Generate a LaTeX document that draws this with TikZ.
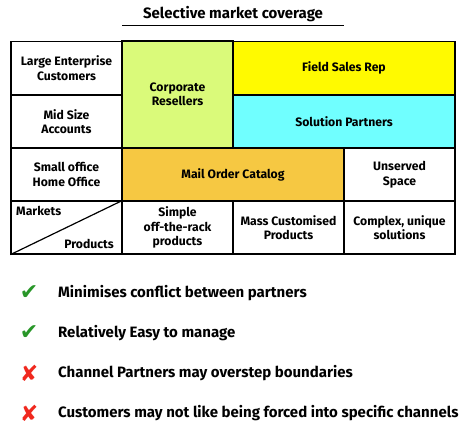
\documentclass[tikz,border=0pt]{standalone}
\usepackage{fontspec}
\setmainfont{Fira Sans}
\newfontfamily\symfont{DejaVu Sans}
\definecolor{limefill}{RGB}{218,250,122}
\definecolor{yellowfill}{RGB}{255,250,0}
\definecolor{cyanfill}{RGB}{112,255,255}
\definecolor{orangefill}{RGB}{246,200,66}
\definecolor{tickgreen}{RGB}{40,150,40}
\definecolor{crossred}{RGB}{240,40,30}
\tikzset{
  cell/.style={draw, line width=1.3pt, minimum width=111pt, minimum height=53pt,
    inner sep=0pt, align=center, font=\fontsize{12.2}{14.5}\bfseries\selectfont},
  wide/.style={cell, minimum width=222pt},
  item/.style={anchor=west, inner sep=0pt, font=\fontsize{15}{17}\bfseries\selectfont},
  mark sym/.style={inner sep=0pt, font=\symfont\fontsize{22}{22}\selectfont}
}
\begin{document}
\begin{tikzpicture}[x=1pt,y=-1pt]
	\useasboundingbox (0,0) rectangle (474,437);
	% title
	\node[font=\fontsize{15}{17}\bfseries\selectfont] (title) at (233,14) {Selective market coverage};
	\coordinate (ul) at (122,25.5);
	\coordinate (ur) at (344,25.5);
	\draw[line width=1.2pt] (ul) -- (ur);
	% markets column
	\node[cell] (large) at (66.5,68) {Large Enterprise\\Customers};
	\node[cell] (mid) at (66.5,121.5) {Mid Size\\Accounts};
	\node[cell] (small) at (66.5,174.5) {Small office\\Home Office};
	\node[cell] (corner) at (66.5,227.5) {};
	\draw[line width=1.2pt] (corner.south west) -- (corner.north east);
	\node[anchor=north west, inner sep=0pt, font=\fontsize{12.2}{14.5}\bfseries\selectfont] (markets) at (16,206) {Markets};
	\node[anchor=south east, inner sep=0pt, font=\fontsize{12.2}{14.5}\bfseries\selectfont] (products) at (114,249) {Products};
	% channels
	\node[cell, fill=limefill, minimum height=107pt] (corp) at (177.5,94.5) {Corporate\\Resellers};
	\node[wide, fill=yellowfill] (field) at (344,68) {Field Sales Rep};
	\node[wide, fill=cyanfill] (solution) at (344,121.5) {Solution Partners};
	\node[wide, fill=orangefill] (mail) at (233,174.5) {Mail Order Catalog};
	\node[cell] (unserved) at (399.5,174.5) {Unserved\\Space};
	% products row
	\node[cell] (simple) at (177.5,227.5) {Simple\\off-the-rack\\products};
	\node[cell] (mass) at (288.5,227.5) {Mass Customised\\Products};
	\node[cell] (complex) at (399.5,227.5) {Complex, unique\\solutions};
	% pros and cons
	\node[mark sym, text=tickgreen] (tick1) at (29,293) {✔};
	\node[item] (pro1) at (58,293) {Minimises conflict between partners};
	\node[mark sym, text=tickgreen] (tick2) at (29,333) {✔};
	\node[item] (pro2) at (58,333) {Relatively Easy to manage};
	\node[mark sym, text=crossred] (cross1) at (29,373) {✘};
	\node[item] (con1) at (58,373) {Channel Partners may overstep boundaries};
	\node[mark sym, text=crossred] (cross2) at (29,413) {✘};
	\node[item] (con2) at (58,413) {Customers may not like being forced into specific channels};
\end{tikzpicture}
\end{document}
